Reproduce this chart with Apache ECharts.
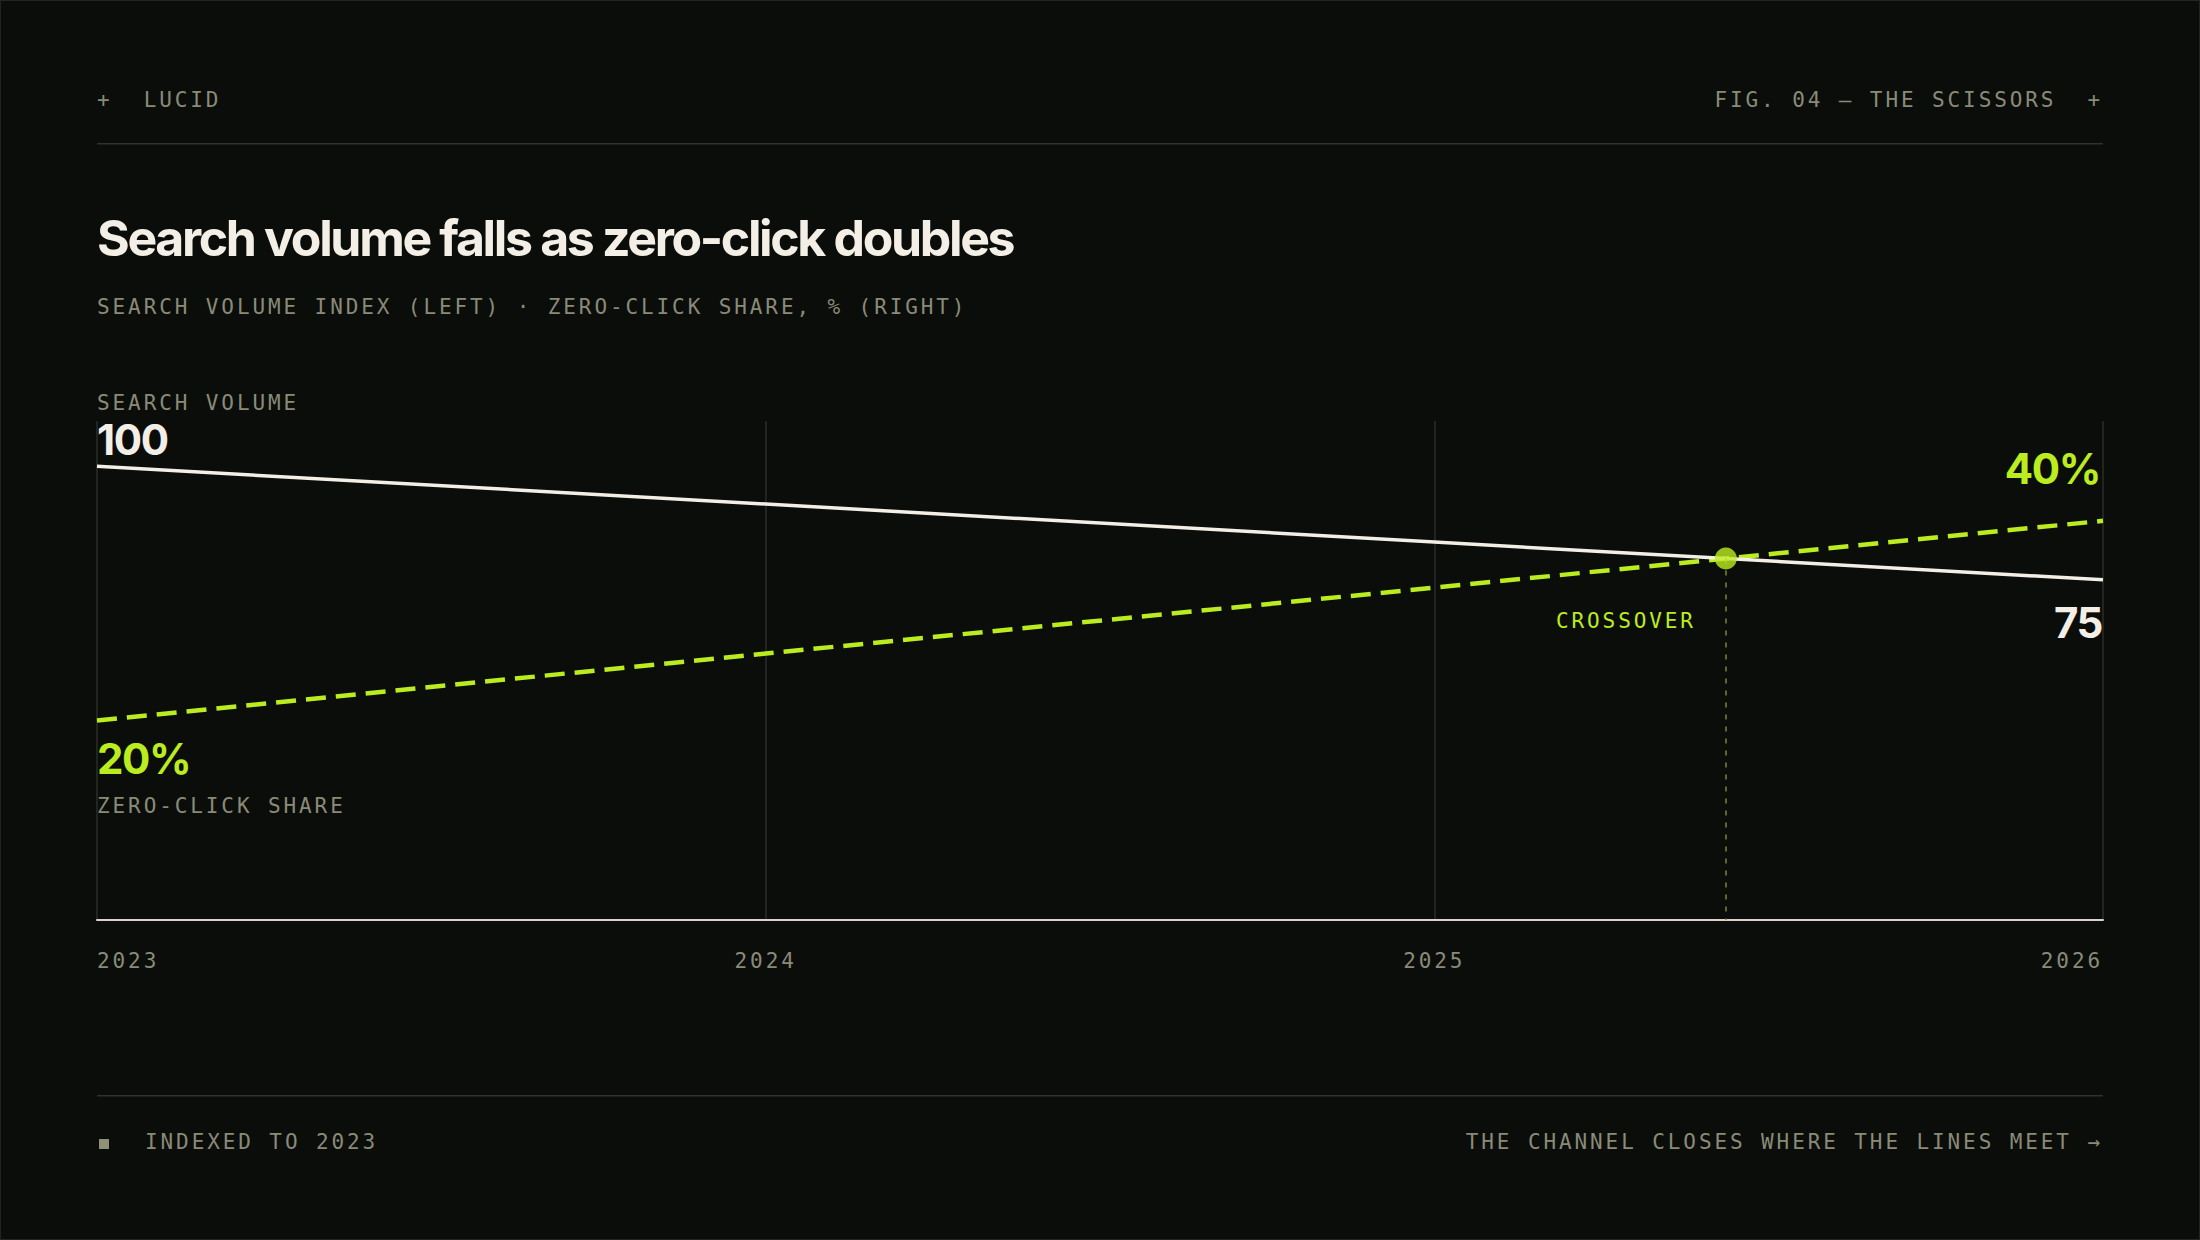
<!DOCTYPE html>
<html><head><meta charset="utf-8">
<script src="https://cdn.jsdelivr.net/npm/echarts@6.0.0/dist/echarts.min.js"></script>
<style>
html,body{margin:0;padding:0;background:#0b0d0a;overflow:hidden;}
#c{width:2200px;height:1240px;}
svg text{white-space:pre;}
svg text[style*="Mono"]{letter-spacing:2.9px;}
svg text[style*="Inter"]{letter-spacing:-1.4px;}
svg text[style*="50px"]{letter-spacing:-2.35px;}
</style></head><body><div id="c"></div>
<script>
// ---- data ----
const years = [2023, 2024, 2025, 2026];
const yearLabels = ['2023', '2024', '2025', '2026'];
const searchVolume = [100, 91.7, 83.3, 75];      // index, left axis
const zeroClickShare = [20, 26.7, 33.3, 40];     // %, right axis
const crossover = [2025.436, 79.7];              // year, volume index
const volumeRange = [0, 110];
const shareRange = [0, 50];

// ---- style ----
const BG = '#0b0d0a', CREAM = '#f3efe6', LIME = '#bbec1f', GREY = '#8a8a78';
const MONO = '"DejaVu Sans Mono"';
const SANS = 'Inter';

const chart = echarts.init(document.getElementById('c'), null, {renderer: 'svg', width: 2200, height: 1240});

chart.setOption({
  backgroundColor: BG,
  animation: false,
  grid: {left: 97, right: 97, top: 421, bottom: 320, containLabel: false},
  xAxis: {
    type: 'value', min: years[0], max: years[years.length - 1], interval: 1,
    axisLine: {lineStyle: {color: '#d8d4cb', width: 2}},
    axisTick: {show: false},
    splitLine: {show: true, lineStyle: {color: '#2b2d29', width: 1.5}},
    axisLabel: {
      color: GREY, fontFamily: MONO, fontSize: 21, margin: 30,
      alignMinLabel: 'left', alignMaxLabel: 'right',
      formatter: v => yearLabels[years.indexOf(v)] || ''
    }
  },
  yAxis: [
    {type: 'value', min: volumeRange[0], max: volumeRange[1], show: false},
    {type: 'value', min: shareRange[0], max: shareRange[1], show: false}
  ],
  series: [
    {
      name: 'Search volume', type: 'line', yAxisIndex: 0, z: 3,
      data: years.map((y, i) => [y, searchVolume[i]]),
      symbol: 'none', lineStyle: {color: CREAM, width: 3.5}
    },
    {
      name: 'Zero-click share', type: 'line', yAxisIndex: 1, z: 2,
      data: years.map((y, i) => [y, zeroClickShare[i]]),
      symbol: 'none', lineStyle: {color: LIME, width: 4.5, type: [20, 10]}
    },
    {
      name: 'Crossover', type: 'scatter', yAxisIndex: 0, z: 5,
      data: [crossover], symbolSize: 22, itemStyle: {color: LIME},
      markLine: {
        silent: true, symbol: 'none', label: {show: false},
        lineStyle: {color: '#7a8a2a', width: 1.5, type: [5, 7]},
        data: [[{coord: crossover}, {coord: [crossover[0], volumeRange[0]]}]]
      }
    }
  ]
});

const px = (si, pt) => chart.convertToPixel({seriesIndex: si}, pt);
const v0 = px(0, [years[0], searchVolume[0]]);
const v3 = px(0, [years[3], searchVolume[3]]);
const s0 = px(1, [years[0], zeroClickShare[0]]);
const s3 = px(1, [years[3], zeroClickShare[3]]);
const cp = px(2, crossover);

function txt(text, x, y, font, fill, align) {
  return {type: 'text', x: x, y: y, z: 100, silent: true,
    style: {text: text, font: font, fill: fill, textAlign: align || 'left', textVerticalAlign: 'middle'}};
}
const monoFont = '21px ' + MONO;
const bigFont = '700 42px ' + SANS;

chart.setOption({
  graphic: [
    txt('+\u00a0\u00a0LUCID', 97, 100, monoFont, GREY),
    txt('FIG. 04 \u2014 THE SCISSORS\u00a0\u00a0+', 2103, 100, monoFont, GREY, 'right'),
    {type: 'rect', shape: {x: 97, y: 143, width: 2006, height: 1.5}, style: {fill: '#30322d'}, silent: true},
    txt('Search volume falls as zero-click doubles', 97, 238, '700 50px ' + SANS, CREAM),
    txt('SEARCH VOLUME INDEX (LEFT) \u00b7 ZERO-CLICK SHARE, % (RIGHT)', 97, 307, monoFont, GREY),
    {type: 'rect', shape: {x: 97, y: 1095, width: 2006, height: 1.5}, style: {fill: '#30322d'}, silent: true},
    {type: 'rect', shape: {x: 99, y: 1139, width: 10, height: 10}, style: {fill: '#8f8f76'}, silent: true},
    txt('INDEXED TO 2023', 145, 1142, monoFont, GREY),
    txt('THE CHANNEL CLOSES WHERE THE LINES MEET \u2192', 2103, 1142, monoFont, GREY, 'right'),
    // data-anchored labels
    txt('SEARCH VOLUME', v0[0], v0[1] - 63, monoFont, GREY),
    txt(String(searchVolume[0]), v0[0], v0[1] - 27, bigFont, CREAM),
    txt(String(searchVolume[3]), v3[0] - 1, v3[1] + 43, bigFont, CREAM, 'right'),
    txt(zeroClickShare[0] + '%', s0[0], s0[1] + 38, bigFont, LIME),
    txt('ZERO-CLICK SHARE', s0[0], s0[1] + 86, monoFont, GREY),
    txt(zeroClickShare[3] + '%', s3[0] - 3, s3[1] - 52, bigFont, LIME, 'right'),
    txt('CROSSOVER', cp[0] - 30, cp[1] + 63, monoFont, LIME, 'right'),
    {type: 'rect', shape: {x: 0, y: 0, width: 2200, height: 1240}, style: {fill: 'none', stroke: '#22241f', lineWidth: 2}, silent: true, z: 200}
  ]
});
</script></body></html>
